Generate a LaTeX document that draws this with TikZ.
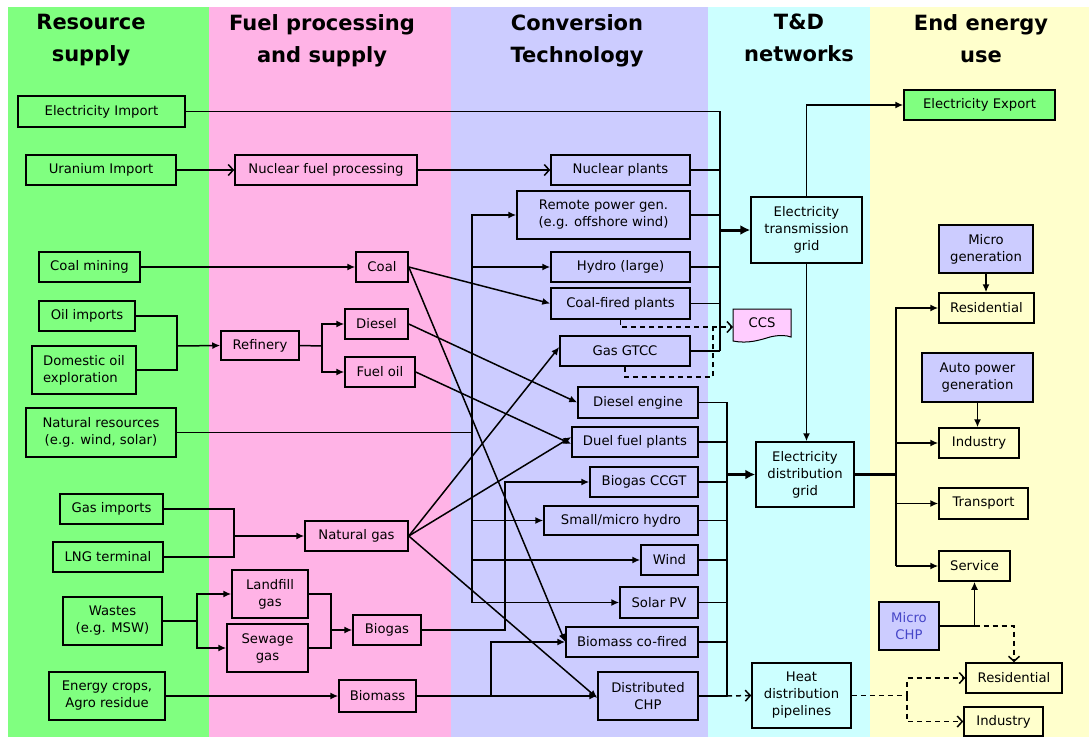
\documentclass[tikz,border=0pt]{standalone}
\usepackage{fontspec}
\setmainfont{DejaVu Sans}
\usetikzlibrary{arrows.meta}
\definecolor{cgreen}{HTML}{80FF80}
\definecolor{cpink}{HTML}{FFB3E6}
\definecolor{clav}{HTML}{CCCCFF}
\definecolor{ccyan}{HTML}{CCFFFF}
\definecolor{cyel}{HTML}{FFFFCC}
\definecolor{cccs}{HTML}{FFCCFF}
\definecolor{cmchp}{HTML}{4646C8}
\begin{document}
\begin{tikzpicture}[x=1pt,y=-1pt,
 bx/.style={draw=black, line width=1.5pt, inner sep=0pt, align=center, font=\fontsize{13.2}{17}\selectfont, text=black},
 hdr/.style={anchor=north, align=center, inner sep=0pt, font=\fontsize{21}{32}\selectfont\bfseries},
 ln/.style={line width=1.5pt, draw=black},
 thk/.style={line width=3pt, draw=black},
 dsh/.style={line width=1.5pt, draw=black, dash pattern=on 5pt off 4pt},
 arf/.style={-{Latex[length=8pt,width=7pt]}},
 arft/.style={-{Latex[length=10pt,width=10pt]}},
 aro/.style={-{Straight Barb[length=5pt,width=11pt,line width=1.5pt]}},
]
\useasboundingbox (0,0) rectangle (1089,737);
% backgrounds
\fill[white] (0,0) rectangle (1089,737);
\fill[cgreen] (8,7) rectangle (209,737);
\fill[cpink] (209,7) rectangle (451,737);
\fill[clav] (451,7) rectangle (708,737);
\fill[ccyan] (708,7) rectangle (870,737);
\fill[cyel] (870,7) rectangle (1089,737);
% headers
\node[hdr] (h1) at (91,14) {Resource\\supply};
\node[hdr] (h2) at (322,14) {Fuel processing\\and supply};
\node[hdr] (h3) at (577,14) {Conversion\\Technology};
\node[hdr] (h4) at (799,14) {T\&D\\networks};
\node[hdr] (h5) at (981,14) {End energy\\use};
% resource supply
\node[bx,minimum width=167pt,minimum height=31pt] (elimp) at (101.5,111.5) {Electricity Import};
\node[bx,minimum width=150pt,minimum height=30pt] (uran) at (101,170) {Uranium Import};
\node[bx,minimum width=101pt,minimum height=30pt] (coalmining) at (89.5,267) {Coal mining};
\node[bx,minimum width=96pt,minimum height=30pt] (oilimp) at (87,316) {Oil imports};
\node[bx,minimum width=104pt,minimum height=48pt,align=left] (domoil) at (84,370) {Domestic oil\\exploration};
\node[bx,minimum width=150pt,minimum height=49pt] (natres) at (101,432.5) {Natural resources\\(e.g. wind, solar)};
\node[bx,minimum width=103pt,minimum height=30pt] (gasimp) at (111.5,509) {Gas imports};
\node[bx,minimum width=110pt,minimum height=30pt] (lng) at (108,557) {LNG terminal};
\node[bx,minimum width=99pt,minimum height=48pt] (wastes) at (112.5,621) {Wastes\\(e.g. MSW)};
\node[bx,minimum width=116pt,minimum height=48pt] (crops) at (107,696) {Energy crops,\\Agro residue};
% fuel processing
\node[bx,minimum width=182pt,minimum height=30pt] (nfp) at (326,170) {Nuclear fuel processing};
\node[bx,minimum width=52pt,minimum height=30pt] (coal) at (382,267) {Coal};
\node[bx,minimum width=78pt,minimum height=29pt] (refinery) at (260,345.5) {Refinery};
\node[bx,minimum width=63pt,minimum height=30pt] (diesel) at (376.5,324) {Diesel};
\node[bx,minimum width=70pt,minimum height=30pt] (fueloil) at (380,372) {Fuel oil};
\node[bx,minimum width=103pt,minimum height=30pt] (natgas) at (356.5,536) {Natural gas};
\node[bx,minimum width=76pt,minimum height=48pt] (landfill) at (270,594) {Landfill\\gas};
\node[bx,minimum width=81pt,minimum height=48pt] (sewage) at (267.5,648) {Sewage\\gas};
\node[bx,minimum width=68pt,minimum height=30pt] (biogas) at (387,630) {Biogas};
\node[bx,minimum width=77pt,minimum height=32pt] (biomass) at (377.5,696) {Biomass};
% conversion
\node[bx,minimum width=139pt,minimum height=30pt] (nucplants) at (620.5,170) {Nuclear plants};
\node[bx,minimum width=173pt,minimum height=48pt] (remote) at (603.5,215) {Remote power gen.\\(e.g. offshore wind)};
\node[bx,minimum width=139pt,minimum height=30pt] (hydro) at (620.5,267) {Hydro (large)};
\node[bx,minimum width=139pt,minimum height=31pt] (coalfired) at (620.5,303.5) {Coal-fired plants};
\node[bx,minimum width=130pt,minimum height=30pt] (gasgtcc) at (625,351) {Gas GTCC};
\node[bx,minimum width=120pt,minimum height=31pt] (dieseleng) at (638,402.5) {Diesel engine};
\node[bx,minimum width=126pt,minimum height=30pt] (duel) at (635,442) {Duel fuel plants};
\node[bx,minimum width=108pt,minimum height=30pt] (bccgt) at (644,482) {Biogas CCGT};
\node[bx,minimum width=154pt,minimum height=29pt] (small) at (621,520.5) {Small/micro hydro};
\node[bx,minimum width=57pt,minimum height=30pt] (wind) at (669.5,560) {Wind};
\node[bx,minimum width=78pt,minimum height=31pt] (solar) at (659,602.5) {Solar PV};
\node[bx,minimum width=132pt,minimum height=30pt] (biocof) at (632,642) {Biomass co-fired};
\node[bx,minimum width=100pt,minimum height=48pt] (dchp) at (648,696) {Distributed\\CHP};
% T&D
\node[bx,minimum width=111pt,minimum height=66pt] (trans) at (806.5,230) {Electricity\\transmission\\grid};
\node[bx,minimum width=98pt,minimum height=65pt] (dist) at (805,474.5) {Electricity\\distribution\\grid};
\node[bx,minimum width=99pt,minimum height=65pt] (heat) at (801.5,695.5) {Heat\\distribution\\pipelines};
\draw[line width=1pt, fill=cccs] (733,309) -- (791,309) -- (791,337) .. controls (786,335) and (778,335) .. (770,337) .. controls (760,340) and (748,344) .. (733,341) -- cycle;
\node[inner sep=0pt, font=\fontsize{13.2}{17}\selectfont] (ccs) at (762,323) {CCS};
% end use
\node[bx,fill=cgreen,minimum width=151pt,minimum height=30pt] (export) at (979.5,105) {Electricity Export};
\node[bx,fill=clav,minimum width=94pt,minimum height=48pt] (microgen) at (986,249) {Micro\\generation};
\node[bx,minimum width=95pt,minimum height=30pt] (res1) at (986.5,308) {Residential};
\node[bx,fill=clav,minimum width=111pt,minimum height=49pt] (auto) at (977.5,377.5) {Auto power\\generation};
\node[bx,minimum width=80pt,minimum height=30pt] (ind1) at (979,443) {Industry};
\node[bx,minimum width=89pt,minimum height=31pt] (transport) at (983.5,503.5) {Transport};
\node[bx,minimum width=71pt,minimum height=30pt] (service) at (974.5,566) {Service};
\node[bx,fill=clav,text=cmchp,minimum width=60pt,minimum height=48pt] (mchp) at (909,626) {Micro\\CHP};
\node[bx,minimum width=96pt,minimum height=30pt] (res2) at (1014,678) {Residential};
\node[bx,minimum width=79pt,minimum height=29pt] (ind2) at (1003.5,721.5) {Industry};
% junction coordinates
\coordinate (oilj) at (177,346);
\coordinate (refj) at (322,346);
\coordinate (gasj) at (234,536);
\coordinate (wj) at (197,621);
\coordinate (bj) at (331,630);
\coordinate (nrx) at (472,0);
\coordinate (bgx) at (505,0);
\coordinate (bmx) at (491,0);
\coordinate (bax) at (720,0);
\coordinate (bbx) at (727,0);
\coordinate (bcx) at (896,0);
\coordinate (hx) at (907,0);
\coordinate (ccsin) at (733,327);
\coordinate (gasdash) at (713,377);
% resource -> fuel
\draw[ln,aro] (uran.east) -- (nfp.west);
\draw[ln,aro] (nfp.east) -- (nucplants.west);
\draw[ln,arf] (coalmining.east) -- (coal.west);
\draw[ln] (oilimp.east) -| (oilj);
\draw[ln] (domoil.east) -| (oilj);
\draw[ln,arf] (oilj) -- (refinery.west);
\draw[ln] (refinery.east) -- (refj);
\draw[ln,arf] (refj) |- (diesel.west);
\draw[ln,arf] (refj) |- (fueloil.west);
\draw[ln] (gasimp.east) -| (gasj);
\draw[ln] (lng.east) -| (gasj);
\draw[ln,arf] (gasj) -- (natgas.west);
\draw[ln] (wastes.east) -- (wj);
\draw[ln,arf] (wj) |- (landfill.west);
\draw[ln,arf] (wj) |- (sewage.west);
\draw[ln] (landfill.east) -| (bj);
\draw[ln] (sewage.east) -| (bj);
\draw[ln,arf] (bj) -- (biogas.west);
\draw[ln,arf] (crops.east) -- (biomass.west);
% fuel -> conversion
\draw[ln] (natres.east) -- (natres.east -| nrx);
\draw[ln,arf] (nrx |- solar.west) |- (remote.west);
\draw[ln,arf] (nrx |- hydro.west) -- (hydro.west);
\draw[ln,arf] (nrx |- small.west) -- (small.west);
\draw[ln,arf] (nrx |- wind.west) -- (wind.west);
\draw[ln,arf] (nrx |- solar.west) -- (solar.west);
\draw[ln,arf] (coal.east) -- (coalfired.west);
\draw[ln,arf] (coal.east) -- (biocof.west);
\draw[ln,arf] (diesel.east) -- (dieseleng.west);
\draw[ln,arf] (fueloil.east) -- ([yshift=-2pt]duel.west);
\draw[ln,arf] (natgas.east) -- ([yshift=4pt]gasgtcc.west);
\draw[ln,arf] (natgas.east) -- ([yshift=5pt]duel.west);
\draw[ln,arf] (natgas.east) -- ([yshift=-2pt]dchp.west);
\draw[ln,arf] (biogas.east) -| (bgx |- bccgt.west) -- (bccgt.west);
\draw[ln,arf] (biomass.east) -- (dchp.west);
\draw[ln,arf] (bmx |- biomass.east) |- (biocof.west);
% conversion -> transmission
\draw[ln] (elimp.east) -| (bax |- gasgtcc.east);
\draw[ln] (gasgtcc.east) -- (gasgtcc.east -| bax);
\draw[ln] (nucplants.east) -- (nucplants.east -| bax);
\draw[ln] (remote.east) -- (remote.east -| bax);
\draw[ln] (hydro.east) -- (hydro.east -| bax);
\draw[ln] (coalfired.east) -- (coalfired.east -| bax);
\draw[thk,arft] (bax |- trans.west) -- (trans.west);
\draw[dsh,aro] (coalfired.south) |- (ccsin);
\draw[dsh] (gasgtcc.south) |- (gasdash) -- (gasdash |- ccsin);
% conversion -> distribution
\draw[ln] (dieseleng.east) -| (bbx |- dchp.east);
\draw[ln] (duel.east) -- (duel.east -| bbx);
\draw[ln] (bccgt.east) -- (bccgt.east -| bbx);
\draw[ln] (small.east) -- (small.east -| bbx);
\draw[ln] (wind.east) -- (wind.east -| bbx);
\draw[ln] (solar.east) -- (solar.east -| bbx);
\draw[ln] (biocof.east) -- (biocof.east -| bbx);
\draw[ln] (dchp.east) -- (dchp.east -| bbx);
\draw[thk,arft] (bbx |- dist.west) -- (dist.west);
\draw[dsh,aro] (dchp.east -| bbx) -- (heat.west);
% T&D
\draw[ln,arf] (trans.north) |- (export.west);
\draw[ln,arf] (trans.south) -- (trans.south |- dist.north);
% end use
\draw[thk] (dist.east) -- (dist.east -| bcx);
\draw[ln,arf] (bcx |- service.west) |- (res1.west);
\draw[ln,arf] (bcx |- ind1.west) -- (ind1.west);
\draw[ln,arf] (bcx |- transport.west) -- (transport.west);
\draw[ln,arf] (bcx |- service.west) -- (service.west);
\draw[ln,arf] (microgen.south) -- (microgen.south |- res1.north);
\draw[ln,arf] (auto.south) -- (auto.south |- ind1.north);
\draw[ln,arf] (mchp.east) -| (service.south);
\draw[dsh,aro] (service.south |- mchp.east) -| (res2.north);
\draw[dsh] (heat.east) -- (heat.east -| hx);
\draw[dsh,aro] (heat.east -| hx) |- (res2.west);
\draw[dsh,aro] (heat.east -| hx) |- (ind2.west);
\end{tikzpicture}
\end{document}
